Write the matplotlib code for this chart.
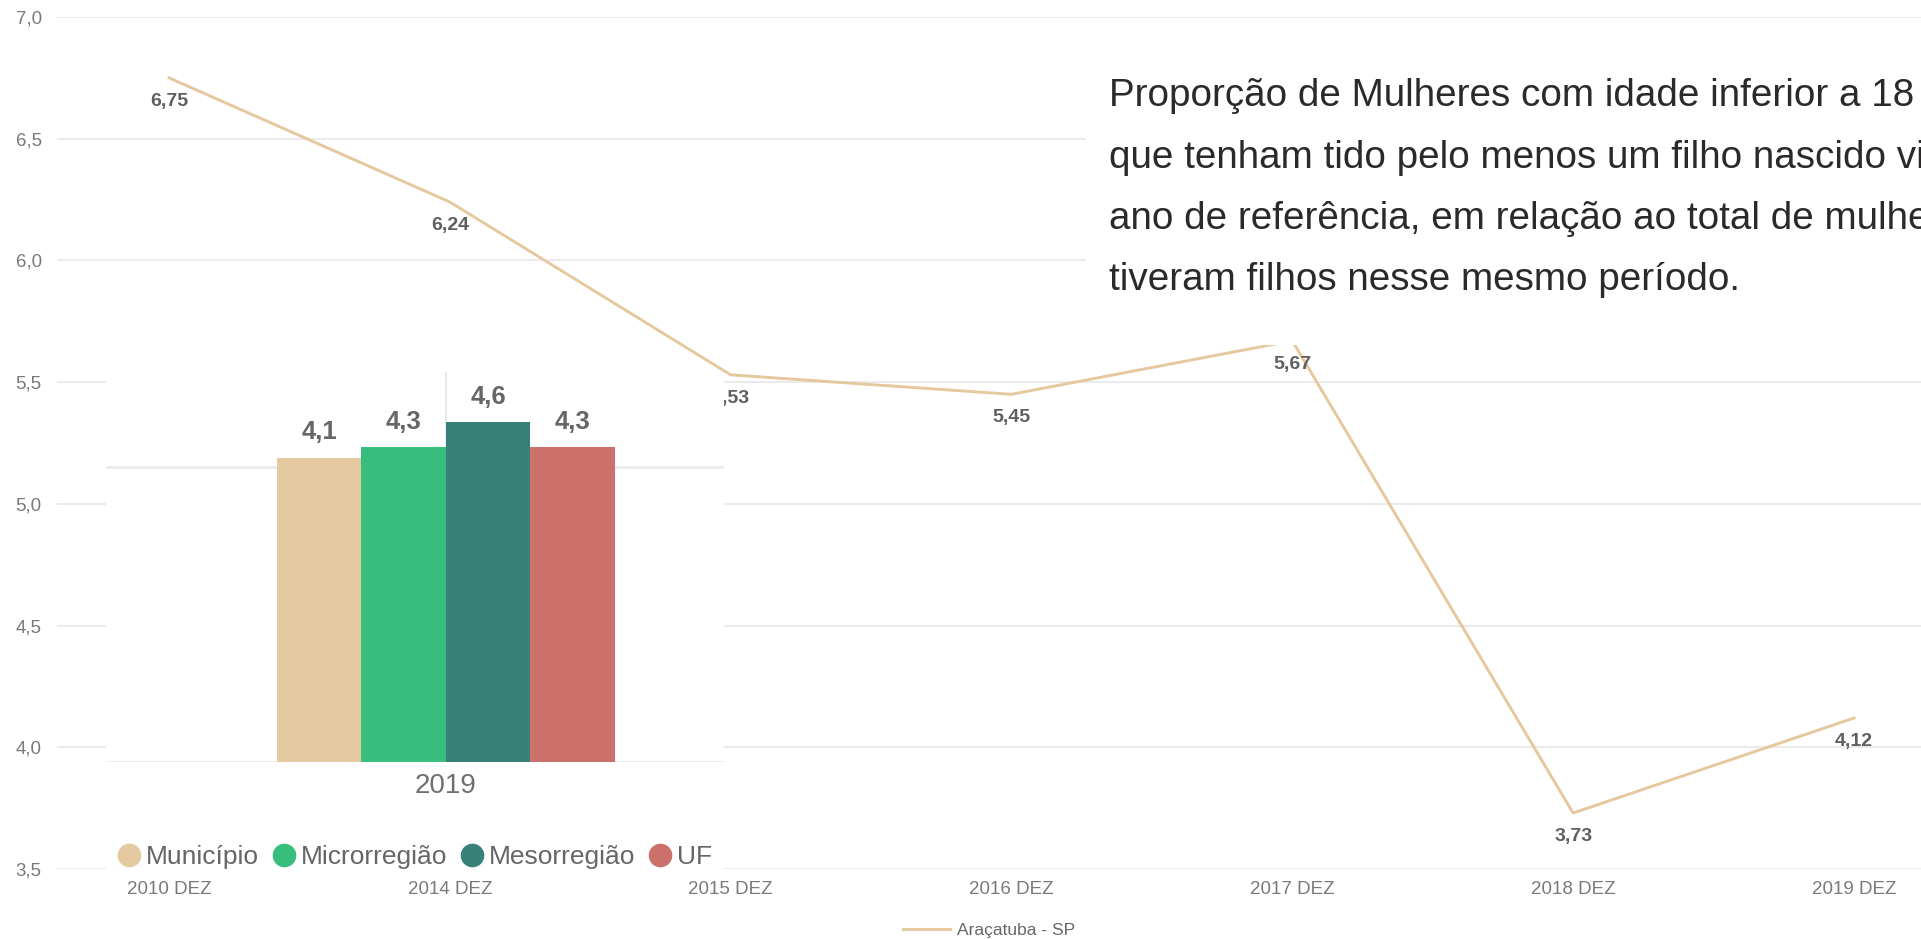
import matplotlib
matplotlib.use("Agg")
import matplotlib.pyplot as plt
from matplotlib.lines import Line2D
from matplotlib.patches import Rectangle

# linha principal
periodos = ["2010 DEZ", "2014 DEZ", "2015 DEZ", "2016 DEZ", "2017 DEZ", "2018 DEZ", "2019 DEZ"]
valores = [6.75, 6.24, 5.53, 5.45, 5.67, 3.73, 4.12]
serie_nome = "Araçatuba - SP"
y_ticks = [3.5, 4.0, 4.5, 5.0, 5.5, 6.0, 6.5, 7.0]

# barras (comparação 2019)
ano = "2019"
niveis = ["Município", "Microrregião", "Mesorregião", "UF"]
niveis_valores = [4.12, 4.26, 4.60, 4.26]
niveis_cores = ["#E5C9A0", "#37BE7D", "#388179", "#CC706B"]

texto = [
    "Proporção de Mulheres com idade inferior a 18 anos",
    "que tenham tido pelo menos um filho nascido vivo no",
    "ano de referência, em relação ao total de mulheres que",
    "tiveram filhos nesse mesmo período.",
]

W, H = 1921, 940
plt.rcParams["font.family"] = ["Liberation Sans", "DejaVu Sans"]
cinza = "#7A7A7A"
grade = "#EBEBEB"


def caixa(x0, y0, x1, y1):
    # pixels (origem no topo) -> fração da figura
    return [x0 / W, 1 - y1 / H, (x1 - x0) / W, (y1 - y0) / H]


def br(v, d):
    return f"{v:.{d}f}".replace(".", ",")


fig = plt.figure(figsize=(W / 100, H / 100), dpi=100)
fig.patch.set_facecolor("white")

# --- gráfico de linha ---
ax = fig.add_axes(caixa(57, 17, 1921, 869), zorder=0)
xs = list(range(len(periodos)))
ax.plot(xs, valores, color="#E6C89E", lw=2.1, label=serie_nome, zorder=3)
for x, v in zip(xs, valores):
    ax.annotate(br(v, 2), (x, v), xytext=(0, -17), textcoords="offset points",
                ha="center", va="center", fontsize=14, fontweight="bold",
                color="#5F5F5F", zorder=4)
ax.set_xlim(-0.399, 6.239)
ax.set_ylim(3.5, 7.0)
ax.set_yticks(y_ticks)
ax.set_yticklabels([br(t, 1) for t in y_ticks])
ax.set_xticks(xs)
ax.set_xticklabels(periodos)
ax.tick_params(axis="y", length=0, pad=11, labelsize=13.5, labelcolor=cinza)
ax.tick_params(axis="x", length=0, pad=9, labelsize=13.5, labelcolor=cinza)
ax.grid(axis="y", color=grade, lw=1.5)
ax.set_axisbelow(True)
for s in ax.spines.values():
    s.set_visible(False)
ax.legend(loc="center", bbox_to_anchor=(0.5, -0.0716), frameon=False,
          fontsize=12.5, handlelength=2.7, handletextpad=0.4, labelcolor="#666666")

# --- cartão de texto (fundo branco), cortado na borda direita como no painel ---
fig.add_artist(Rectangle((1086 / W, 1 - 345 / H), 1 - 1086 / W, (345 - 28) / H,
                         transform=fig.transFigure, facecolor="white",
                         edgecolor="none", zorder=3))
for i, linha in enumerate(texto):
    fig.text(1108.6 / W, 1 - (96.5 + 61.2 * i) / H, linha, fontsize=27.8,
             color="#2B2A29", ha="left", va="center", zorder=4)

# --- gráfico de barras sobreposto ---
fig.add_artist(Rectangle((106 / W, 1 - 872 / H), 618 / W, 500 / H,
                         transform=fig.transFigure, facecolor="white",
                         edgecolor="none", zorder=1))
bx = fig.add_axes(caixa(106, 372, 724, 762.3), zorder=2)
bx.patch.set_alpha(0)
pos = [-1.5, -0.5, 0.5, 1.5]
bars = bx.bar(pos, niveis_valores, width=1.0, color=niveis_cores, zorder=3)
for b, v in zip(bars, niveis_valores):
    bx.annotate(br(v, 1), (b.get_x() + b.get_width() / 2, v), xytext=(0, 18.5),
                textcoords="offset points", ha="center", va="center",
                fontsize=18.5, fontweight="bold", color="#666666", zorder=4)
bx.set_xlim(-4.02, 3.29)
bx.set_ylim(0, 5.281)
bx.axhline(0, color=grade, lw=2, zorder=1)
bx.axhline(4, color=grade, lw=2, zorder=1)
bx.axvline(0, color="#E6E6E6", lw=1.2, zorder=1)
bx.set_yticks([])
bx.set_xticks([0])
bx.set_xticklabels([ano])
bx.tick_params(axis="x", length=0, pad=8, labelsize=20, labelcolor="#6F6F6F")
for s in bx.spines.values():
    s.set_visible(False)
handles = [Line2D([], [], marker="o", ls="", ms=16, color=c, label=n)
           for n, c in zip(niveis, niveis_cores)]
bx.legend(handles=handles, loc="center", bbox_to_anchor=(415 / W, 1 - 857 / H),
          bbox_transform=fig.transFigure, ncol=4, frameon=False, fontsize=19,
          handlelength=0.85, handletextpad=0.23, columnspacing=0.5,
          borderpad=0, labelcolor="#666666")

fig.savefig("out.png", dpi=100)
